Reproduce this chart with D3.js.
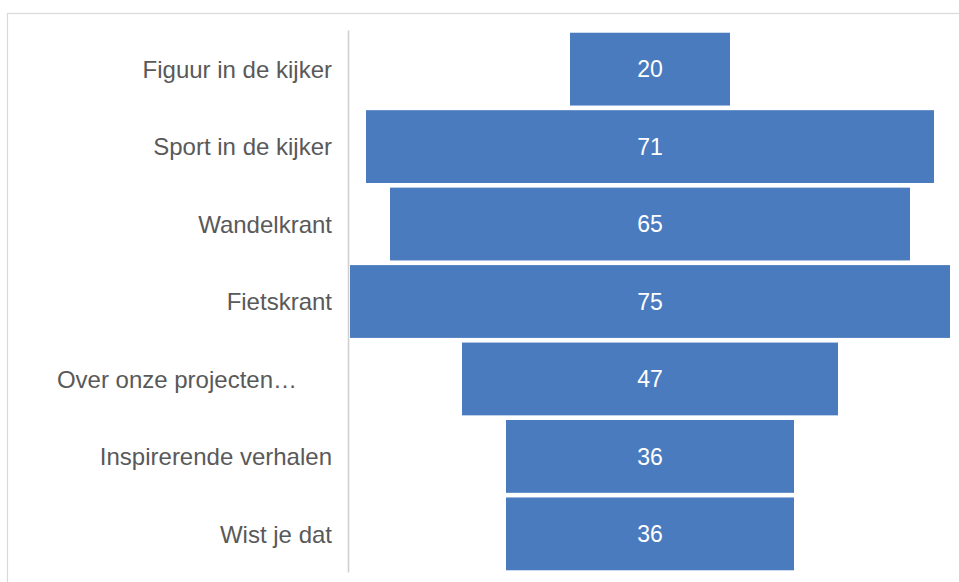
<!DOCTYPE html>
<html><head><meta charset="utf-8">
<script src="https://cdn.jsdelivr.net/npm/d3@7"></script>
<style>html,body{margin:0;padding:0;background:#fff;}svg{display:block;}</style>
</head><body>
<script>
const categories = ["Figuur in de kijker","Sport in de kijker","Wandelkrant","Fietskrant","Over onze projecten…","Inspirerende verhalen","Wist je dat"];
const values = [20,71,65,75,47,36,36];

const W = 959, H = 582;
const svg = d3.select("body").append("svg").attr("width", W).attr("height", H);

// outer chart border (top & left visible)
svg.append("rect").attr("x",7.5).attr("y",13.5).attr("width",W+10).attr("height",H+10)
  .attr("fill","none").attr("stroke","#d9d9d9").attr("stroke-width",1.2);

const cx = 650;
const x = d3.scaleLinear().domain([0,75]).range([0,600]);
const y = d3.scaleBand().domain(categories).range([30.4,572.6]).paddingInner(0.06).paddingOuter(0.03);

// axis line
svg.append("line").attr("x1",348.5).attr("x2",348.5).attr("y1",30.4).attr("y2",572.6)
  .attr("stroke","#d0d0d0").attr("stroke-width",1.6);

const data = categories.map((c,i)=>({c, v: values[i]}));

svg.selectAll("rect.bar").data(data).enter().append("rect").attr("class","bar")
  .attr("x", d => cx - x(d.v)/2).attr("width", d => x(d.v))
  .attr("y", d => y(d.c)).attr("height", y.bandwidth())
  .attr("fill","#4a7bbf");

svg.selectAll("text.val").data(data).enter().append("text").attr("class","val")
  .attr("x", cx).attr("y", d => y(d.c) + y.bandwidth()/2)
  .attr("dy","0.36em").attr("text-anchor","middle")
  .attr("font-family","Liberation Sans, Arial, sans-serif").attr("font-size",23)
  .attr("fill","#ffffff").text(d => d.v);

svg.selectAll("text.cat").data(data).enter().append("text").attr("class","cat")
  .attr("x", d => d.c.endsWith("…") ? 297 : 332)
  .attr("y", d => y(d.c) + y.bandwidth()/2)
  .attr("dy","0.36em").attr("text-anchor","end")
  .attr("font-family","Liberation Sans, Arial, sans-serif").attr("font-size",24)
  .attr("fill","#595959").text(d => d.c);
</script>
</body></html>
